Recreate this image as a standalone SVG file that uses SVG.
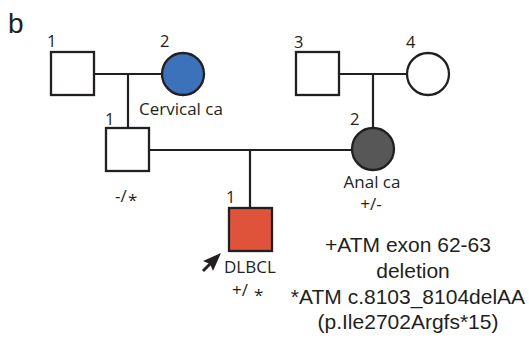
<svg xmlns="http://www.w3.org/2000/svg" width="529" height="342" viewBox="0 0 529 342">
<style>
.sh{stroke:#231f20;stroke-width:2.3;}
.ln{stroke:#231f20;stroke-width:2.2;fill:none;}
.lb{font-family:"Open Sans","Noto Sans",sans-serif;font-size:17px;fill:#231f20;}
.num{font-family:"Open Sans","Noto Sans",sans-serif;font-size:16.5px;fill:#231f20;}
.lg{font-family:"Liberation Sans",Arial,sans-serif;font-size:21px;fill:#231f20;text-anchor:middle;}
</style>
<rect width="529" height="342" fill="#ffffff"/>
<text x="8" y="33" font-family="Liberation Sans, Arial, sans-serif" font-size="28" fill="#231f20">b</text>
<g id="connectors">
<line class="ln" x1="94" y1="74" x2="162" y2="74"/>
<line class="ln" x1="128" y1="74" x2="128" y2="128"/>
<line class="ln" x1="339" y1="74" x2="407" y2="74"/>
<line class="ln" x1="373" y1="74" x2="373" y2="128"/>
<line class="ln" x1="149" y1="150" x2="352" y2="150"/>
<line class="ln" x1="250" y1="150" x2="250" y2="208"/>
</g>
<g id="I-1">
<rect class="sh" x="51" y="52" width="43" height="43" fill="#ffffff"/>
<text class="num" x="47" y="47">1</text>
</g>
<g id="I-2">
<circle class="sh" cx="183" cy="74" r="21" fill="#3b72b9"/>
<text class="num" x="160" y="47">2</text>
<text class="lb" x="139" y="115">Cervical ca</text>
</g>
<g id="I-3">
<rect class="sh" x="296" y="52" width="43" height="43" fill="#ffffff"/>
<text class="num" x="294" y="48">3</text>
</g>
<g id="I-4">
<circle class="sh" cx="428" cy="74" r="21" fill="#ffffff"/>
<text class="num" x="406" y="48">4</text>
</g>
<g id="II-1">
<rect class="sh" x="106" y="128" width="43" height="43" fill="#ffffff"/>
<text class="num" x="105" y="125">1</text>
<text class="lb" x="115" y="202">-/</text>
<text class="lb" x="128" y="206" font-size="15">*</text>
</g>
<g id="II-2">
<circle class="sh" cx="373" cy="149" r="21" fill="#575757"/>
<text class="num" x="350" y="125">2</text>
<text class="lb" x="372" y="188" text-anchor="middle">Anal ca</text>
<text class="lb" x="371" y="210" text-anchor="middle" font-size="16">+/-</text>
</g>
<g id="III-1">
<rect class="sh" x="229" y="208" width="43" height="43" fill="#e0533b"/>
<text class="num" x="226" y="203">1</text>
<polygon points="221,253 203,261 210,264 213,271" fill="#231f20"/>
<line x1="211" y1="263" x2="203" y2="271" stroke="#231f20" stroke-width="3"/>
<text class="lb" x="224" y="273">DLBCL</text>
<text class="lb" x="232" y="296">+/</text>
<text class="lb" x="254" y="301" font-size="15">*</text>
</g>
<g id="legend">
<text class="lg" x="408" y="252">+ATM exon 62-63</text>
<text class="lg" x="413" y="278">deletion</text>
<text class="lg" x="408" y="304">*ATM c.8103_8104delAA</text>
<text class="lg" x="408" y="329">(p.Ile2702Argfs*15)</text>
</g>
</svg>
